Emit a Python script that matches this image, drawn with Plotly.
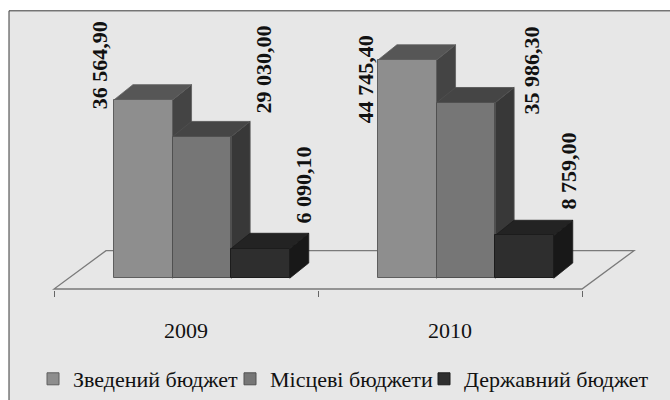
import plotly.graph_objects as go

# ---- data ----
years = ["2009", "2010"]
series_names = ["Зведений бюджет", "Місцеві бюджети", "Державний бюджет"]
zvedenyi = [36564.90, 44745.40]
mistsevi = [29030.00, 35986.30]
derzhavnyi = [6090.10, 8759.00]
series_values = [zvedenyi, mistsevi, derzhavnyi]

# ---- styles ----
front_colors = ["#8e8e8e", "#767676", "#2e2e2e"]
top_colors = ["#565656", "#454545", "#232323"]
side_colors = ["#444444", "#383838", "#181818"]
line_colors = ["#5e5e5e", "#505050", "#1c1c1c"]
FONT = "Liberation Serif"

# label pixel offsets (xshift, yshift) relative to each bar's front-top centre
label_shifts = [
    [(-43, -11), (-42, -65)],
    [(62, 21), (66, -14)],
    [(43, 23), (45, 24)],
]
# legend entry left edges (px)
legend_left_px = [33, 230, 424]

# ---- geometry / scales ----
W, H = 670, 400
plot_h = 295                 # plot area height in px (from top)
base_px = 283                # pixel row of value 0
units_per_px = 201.6         # value units per vertical pixel
cat_px = 264.0               # pixels per category
first_boundary_px = 54.0     # pixel of x = -0.5

x_lo = -0.5 - first_boundary_px / cat_px
x_hi = x_lo + W / cat_px
y_lo = -(plot_h - base_px) * units_per_px
y_hi = base_px * units_per_px

bar_w = 0.222
start = -0.273
depth_dx = 19 / cat_px
depth_dy = 15.5 * units_per_px
floor_front = -(294 - base_px) * units_per_px
floor_back = (base_px - 255) * units_per_px
floor_dx = 52 / cat_px


def fmt(v):
    return f"{v:,.2f}".replace(",", " ").replace(".", ",")


legend_ids = ["legend", "legend2", "legend3"]

fig = go.Figure()
xs = list(range(len(years)))
for i, (name, vals) in enumerate(zip(series_names, series_values)):
    fig.add_trace(go.Bar(
        x=xs, y=vals, name=name,
        width=bar_w, offset=start + i * bar_w,
        marker=dict(color=front_colors[i], line=dict(color=line_colors[i], width=1)),
        hoverinfo="skip", legend=legend_ids[i],
    ))

shapes = []
# outer frame
shapes.append(dict(type="rect", xref="paper", yref="paper",
                   x0=9 / W, x1=1.05, y0=-(H - plot_h + 10) / plot_h, y1=1 - 11 / plot_h,
                   fillcolor="#e7e7e7", line=dict(color="#3a3a3a", width=1), layer="below"))
# floor
shapes.append(dict(type="path", xref="x", yref="y", layer="below",
                   path=f"M{-0.5},{floor_front} L{len(years) - 0.5},{floor_front} "
                        f"L{len(years) - 0.5 + floor_dx},{floor_back} L{-0.5 + floor_dx},{floor_back} Z",
                   fillcolor="rgba(0,0,0,0)", line=dict(color="#7a7a7a", width=1.3)))

annotations = []
for c in xs:
    for i, vals in enumerate(series_values):
        v = vals[c]
        x0 = c + start + i * bar_w
        x1 = x0 + bar_w
        # side face
        shapes.append(dict(type="path", xref="x", yref="y", layer="below",
                           path=f"M{x1},0 L{x1},{v} L{x1 + depth_dx},{v + depth_dy} L{x1 + depth_dx},{depth_dy} Z",
                           fillcolor=side_colors[i], line=dict(color=line_colors[i], width=0.8)))
        # top face
        shapes.append(dict(type="path", xref="x", yref="y", layer="below",
                           path=f"M{x0},{v} L{x1},{v} L{x1 + depth_dx},{v + depth_dy} L{x0 + depth_dx},{v + depth_dy} Z",
                           fillcolor=top_colors[i], line=dict(color=line_colors[i], width=0.8)))
        xs_, ys_ = label_shifts[i][c]
        annotations.append(dict(x=(x0 + x1) / 2, y=v, xref="x", yref="y",
                                text=f"<b>{fmt(v)}</b>", textangle=-90, showarrow=False,
                                xanchor="center", yanchor="bottom", xshift=xs_, yshift=ys_,
                                font=dict(family=FONT, size=22, color="#111111")))

legend_style = dict(orientation="h", xanchor="left", y=-(386 - plot_h) / plot_h,
                    yanchor="middle", font=dict(family=FONT, size=22, color="#111111"),
                    bgcolor="rgba(0,0,0,0)", itemclick=False, itemwidth=30)

fig.update_layout(
    width=W, height=H,
    margin=dict(l=0, r=0, t=0, b=H - plot_h),
    paper_bgcolor="white", plot_bgcolor="rgba(0,0,0,0)",
    font=dict(family=FONT),
    shapes=shapes, annotations=annotations,
    bargap=0, barmode="overlay",
    showlegend=True,
    legend=dict(x=legend_left_px[0] / W, **legend_style),
    legend2=dict(x=legend_left_px[1] / W, **legend_style),
    legend3=dict(x=legend_left_px[2] / W, **legend_style),
    xaxis=dict(range=[x_lo, x_hi], tickmode="array", tickvals=xs, ticktext=years,
               ticks="outside", ticklen=21, tickcolor="rgba(0,0,0,0)",
               showgrid=False, zeroline=False, showline=False, fixedrange=True,
               tickfont=dict(family=FONT, size=22, color="#111111"),
               minor=dict(tickmode="array", tickvals=[-0.5 + k for k in range(len(years) + 1)],
                          ticks="outside", ticklen=6, tickcolor="#666666", tickwidth=1.3,
                          showgrid=False)),
    yaxis=dict(range=[y_lo, y_hi], visible=False, showgrid=False, zeroline=False, fixedrange=True),
)

fig.write_html("out.html")
